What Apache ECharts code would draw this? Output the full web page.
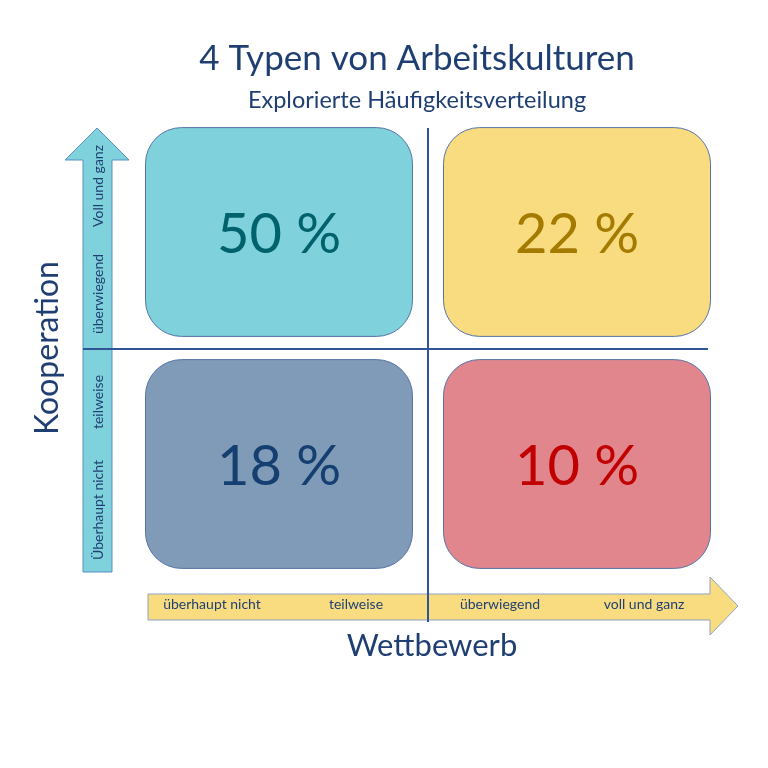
<!DOCTYPE html>
<html>
<head>
<meta charset="UTF-8">
<title>4 Typen von Arbeitskulturen</title>
<script src="https://cdn.jsdelivr.net/npm/echarts@6/dist/echarts.min.js"></script>
<style>
  html, body { margin: 0; padding: 0; background: #fff; }
  #chart { width: 768px; height: 768px; }
</style>
</head>
<body>
<div id="chart"></div>
<script>
// Daten
var quadCol = [0, 1, 0, 1];      // Wettbewerb: 0 = niedrig, 1 = hoch
var quadRow = [1, 1, 0, 0];      // Kooperation: 0 = niedrig, 1 = hoch
var shares = [50, 22, 18, 10];   // Anteil in %
var wettbewerbLabels = ['überhaupt nicht', 'teilweise', 'überwiegend', 'voll und ganz'];
var kooperationLabels = ['Überhaupt nicht', 'teilweise', 'überwiegend', 'Voll und ganz'];

var FONT = 'Lato, "Open Sans", sans-serif';
var DARK = '#1f3f73';
var fills = ['#7fd2dc', '#f9dc80', '#7f9bb7', '#e2868d'];
var textColors = ['#00626d', '#a47b00', '#143f70', '#c00000'];

var quadData = [];
for (var i = 0; i < shares.length; i++) {
    quadData.push([quadCol[i], quadRow[i], shares[i]]);
}

function renderQuad(params, api) {
    var col = api.value(0), row = api.value(1);
    var p0 = api.coord([col, row + 1]);
    var p1 = api.coord([col + 1, row]);
    var w = p1[0] - p0[0], h = p1[1] - p0[1];
    var bw = w * 0.896, bh = h * 0.9;
    var x = p0[0] + (w - bw) / 2, y = p0[1] + (h - bh) / 2;
    var idx = params.dataIndex;
    return {
        type: 'group',
        children: [
            {
                type: 'rect',
                shape: { x: x, y: y, width: bw, height: bh, r: 36 },
                style: { fill: fills[idx], stroke: '#5574a8', lineWidth: 1 }
            },
            {
                type: 'text',
                style: {
                    text: api.value(2) + ' %',
                    x: x + bw / 2, y: y + bh / 2 + 3,
                    align: 'center', verticalAlign: 'middle',
                    fontSize: 56, fontFamily: FONT, fill: textColors[idx]
                }
            }
        ]
    };
}

var myChart = echarts.init(document.getElementById('chart'));

var option = {
    animation: false,
    title: [
        {
            text: '4 Typen von Arbeitskulturen',
            left: 412, textAlign: 'center', top: 33,
            textStyle: { fontSize: 35, fontWeight: 'normal', fontFamily: FONT, color: DARK, lineHeight: 42 }
        },
        {
            text: 'Explorierte Häufigkeitsverteilung',
            left: 412, textAlign: 'center', top: 81,
            textStyle: { fontSize: 23.5, fontWeight: 'normal', fontFamily: FONT, color: DARK, lineHeight: 28 }
        }
    ],
    grid: [
        { left: 130, top: 116, width: 596, height: 464 },
        { left: 140, top: 132, width: 576, height: 432 }
    ],
    xAxis: [
        { type: 'value', gridIndex: 0, min: 0, max: 2, show: false },
        {
            type: 'category', gridIndex: 1, data: wettbewerbLabels, z: 10,
            axisLine: { show: false }, axisTick: { show: false }, splitLine: { show: false },
            axisLabel: { interval: 0, margin: 33, fontSize: 14, fontFamily: FONT, color: DARK }
        }
    ],
    yAxis: [
        { type: 'value', gridIndex: 0, min: 0, max: 2, show: false },
        {
            type: 'category', gridIndex: 1, data: kooperationLabels, z: 10,
            axisLine: { show: false }, axisTick: { show: false }, splitLine: { show: false },
            axisLabel: { interval: 0, margin: 35, rotate: 90, fontSize: 14, fontFamily: FONT, color: DARK }
        }
    ],
    graphic: [
        {
            type: 'polygon', z: 0,
            shape: { points: [[83, 572], [83, 160], [65, 160], [97, 128], [129, 160], [112, 160], [112, 572]] },
            style: { fill: '#7fd2dc', stroke: '#5b8fc7', lineWidth: 1 }
        },
        {
            type: 'polygon', z: 0,
            shape: { points: [[148, 594], [710, 594], [710, 577], [738, 606], [710, 635], [710, 620], [148, 620]] },
            style: { fill: '#f9dc80', stroke: '#8fa3c4', lineWidth: 1 }
        },
        {
            type: 'line', z: 1,
            shape: { x1: 428, y1: 128, x2: 428, y2: 622 },
            style: { stroke: '#2f5597', lineWidth: 2 }
        },
        {
            type: 'line', z: 1,
            shape: { x1: 83, y1: 349, x2: 708, y2: 349 },
            style: { stroke: '#2f5597', lineWidth: 2 }
        },
        {
            type: 'text', z: 1,
            x: 432, y: 646,
            style: { text: 'Wettbewerb', align: 'center', verticalAlign: 'middle', fontSize: 31, fontFamily: FONT, fill: DARK }
        },
        {
            type: 'text', z: 1,
            x: 48, y: 348, rotation: Math.PI / 2,
            style: { text: 'Kooperation', align: 'center', verticalAlign: 'middle', fontSize: 32, fontFamily: FONT, fill: DARK }
        }
    ],
    series: [
        {
            type: 'custom',
            xAxisIndex: 0, yAxisIndex: 0,
            renderItem: renderQuad,
            clip: false,
            data: quadData
        }
    ]
};

myChart.setOption(option);
</script>
</body>
</html>
